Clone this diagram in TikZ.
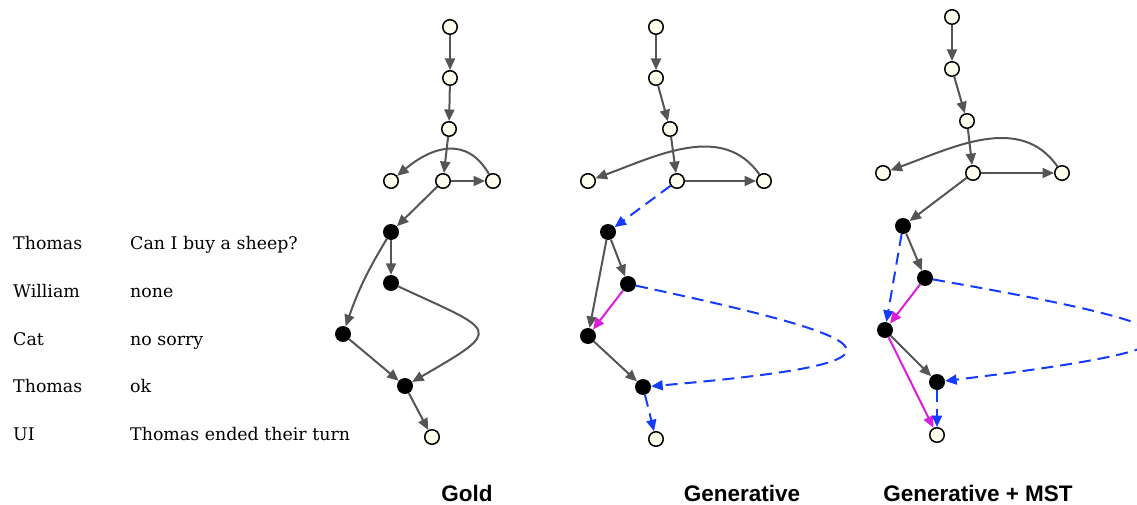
\documentclass[tikz,border=0pt]{standalone}
\usepackage{fontspec}
\setmainfont{DejaVu Serif}
\newfontfamily\headfont{Liberation Sans}
\usetikzlibrary{arrows.meta}
\definecolor{edgegray}{RGB}{85,85,85}
\definecolor{predblue}{RGB}{20,60,255}
\definecolor{movedpink}{RGB}{220,30,220}
\definecolor{leaffill}{RGB}{255,255,238}
\tikzset{
  leaf/.style      = {circle, draw=black, fill=leaffill, line width=1.5pt,
                      minimum size=14.5pt, inner sep=0pt},
  utt/.style       = {circle, fill=black, minimum size=16pt, inner sep=0pt},
  rel/.style       = {-{Triangle[length=11.5pt,width=10pt]}, line width=2pt, draw=edgegray},
  spurious/.style  = {rel, draw=predblue, dash pattern=on 12pt off 7pt},
  moved/.style     = {rel, draw=movedpink},
  speaker/.style   = {anchor=base west, inner sep=0pt, font=\fontsize{17.4}{20}\selectfont},
  msg/.style       = {speaker},
  panel/.style     = {anchor=base, inner sep=0pt, font=\headfont\bfseries\fontsize{22.5}{26}\selectfont}
}
\begin{document}
\begin{tikzpicture}[x=1pt, y=1pt]
  \useasboundingbox (0,0) rectangle (1137,-505);

  % Dialogue
  \node[speaker] (s1) at (13,-249) {Thomas};
  \node[speaker] (s2) at (13,-297) {William};
  \node[speaker] (s3) at (13,-345) {Cat};
  \node[speaker] (s4) at (13,-392) {Thomas};
  \node[speaker] (s5) at (13,-440) {UI};
  \node[msg] (t1) at (130,-249) {Can I buy a sheep?};
  \node[msg] (t2) at (130,-297) {none};
  \node[msg] (t3) at (130,-345) {no sorry};
  \node[msg] (t4) at (130,-392) {ok};
  \node[msg] (t5) at (130,-440) {Thomas ended their turn};

  % Gold
  \node[leaf] (g1) at (450,-27)  {};
  \node[leaf] (g2) at (450,-78)  {};
  \node[leaf] (g3) at (449,-129) {};
  \node[leaf] (g4) at (391,-181) {};
  \node[leaf] (g5) at (443,-181) {};
  \node[leaf] (g6) at (493,-181) {};
  \node[utt]  (ga) at (391,-232) {};
  \node[utt]  (gb) at (391,-283) {};
  \node[utt]  (gc) at (343,-334) {};
  \node[utt]  (gd) at (405,-386) {};
  \node[leaf] (ge) at (432,-437) {};

  \draw[rel] (g1) -- (g2);
  \draw[rel] (g2) -- (g3);
  \draw[rel] (g3) -- (g5);
  \draw[rel] (g5) -- (g6);
  \draw[rel] (g6) to[out=120, in=40, looseness=1.25] (g4);
  \draw[rel] (g5) -- (ga);
  \draw[rel] (ga) -- (gb);
  \draw[rel] (ga) to[bend right=6] (gc);
  \draw[rel] (gb) to[out=-25, in=30, distance=108pt] (gd);
  \draw[rel] (gc) -- (gd);
  \draw[rel] (gd) -- (ge);

  % Generative
  \node[leaf] (p1) at (656,-27)  {};
  \node[leaf] (p2) at (656,-78)  {};
  \node[leaf] (p3) at (670,-129) {};
  \node[leaf] (p4) at (588,-181) {};
  \node[leaf] (p5) at (677,-181) {};
  \node[leaf] (p6) at (764,-181) {};
  \node[utt]  (pa) at (608,-232) {};
  \node[utt]  (pb) at (628,-284) {};
  \node[utt]  (pc) at (588,-336) {};
  \node[utt]  (pd) at (643,-387) {};
  \node[leaf] (pe) at (656,-439) {};

  \draw[rel] (p1) -- (p2);
  \draw[rel] (p2) -- (p3);
  \draw[rel] (p3) -- (p5);
  \draw[rel] (p5) -- (p6);
  \draw[rel] (p6) to[out=125, in=20, looseness=1] (p4);
  \draw[spurious] (p5) -- (pa);
  \draw[rel] (pa) -- (pb);
  \draw[rel] (pa) -- (pc);
  \draw[moved] (pb) -- (pc);
  \draw[rel] (pc) -- (pd);
  \draw[spurious] (pb) to[out=-12, in=5, distance=272pt] (pd);
  \draw[spurious] (pd) -- (pe);

  % Generative + MST
  \node[leaf] (m1) at (952,-17)  {};
  \node[leaf] (m2) at (952,-69)  {};
  \node[leaf] (m3) at (967,-121) {};
  \node[leaf] (m4) at (883,-173) {};
  \node[leaf] (m5) at (973,-173) {};
  \node[leaf] (m6) at (1062,-173) {};
  \node[utt]  (ma) at (903,-226) {};
  \node[utt]  (mb) at (925,-278) {};
  \node[utt]  (mc) at (885,-330) {};
  \node[utt]  (md) at (937,-382) {};
  \node[leaf] (me) at (937,-435) {};

  \draw[rel] (m1) -- (m2);
  \draw[rel] (m2) -- (m3);
  \draw[rel] (m3) -- (m5);
  \draw[rel] (m5) -- (m6);
  \draw[rel] (m6) to[out=125, in=20, looseness=1] (m4);
  \draw[rel] (m5) -- (ma);
  \draw[rel] (ma) -- (mb);
  \draw[spurious] (ma) -- (mc);
  \draw[moved] (mb) -- (mc);
  \draw[rel] (mc) -- (md);
  \draw[moved] (mc) -- (me);
  \draw[spurious] (mb) to[out=-10, in=7, distance=290pt] (md);
  \draw[spurious] (md) -- (me);

  % Panel titles
  \node[panel] (hg) at (467,-501) {Gold};
  \node[panel] (hp) at (742,-501) {Generative};
  \node[panel] (hm) at (978,-501) {Generative + MST};
\end{tikzpicture}
\end{document}
